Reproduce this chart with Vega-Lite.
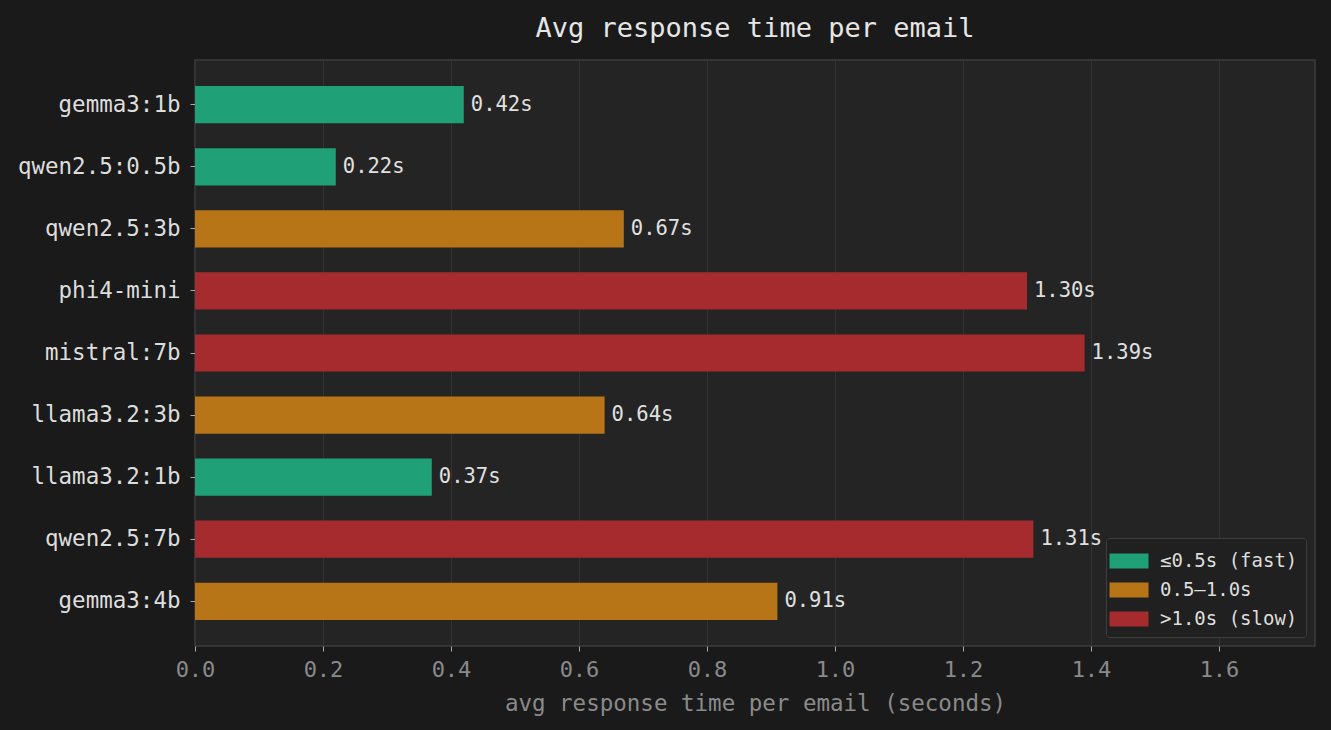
{
  "$schema": "https://vega.github.io/schema/vega-lite/v6.json",
  "width": 1120,
  "height": 586,
  "autosize": {"type": "none"},
  "padding": {"left": 195, "top": 60, "right": 16, "bottom": 84},
  "background": "#1a1a1a",
  "title": {
    "text": "Avg response time per email",
    "font": "DejaVu Sans Mono",
    "fontSize": 27,
    "fontWeight": "normal",
    "color": "#e6e6e6",
    "anchor": "middle",
    "offset": 17
  },
  "config": {
    "view": {"fill": "#242424", "stroke": "#3c3c3c", "strokeWidth": 1.5},
    "font": "DejaVu Sans Mono"
  },
  "data": {
    "values": [
      {"model": "gemma3:1b", "t": 0.42, "label": "0.42s", "cat": "≤0.5s (fast)"},
      {"model": "qwen2.5:0.5b", "t": 0.22, "label": "0.22s", "cat": "≤0.5s (fast)"},
      {"model": "qwen2.5:3b", "t": 0.67, "label": "0.67s", "cat": "0.5–1.0s"},
      {"model": "phi4-mini", "t": 1.30, "label": "1.30s", "cat": ">1.0s (slow)"},
      {"model": "mistral:7b", "t": 1.39, "label": "1.39s", "cat": ">1.0s (slow)"},
      {"model": "llama3.2:3b", "t": 0.64, "label": "0.64s", "cat": "0.5–1.0s"},
      {"model": "llama3.2:1b", "t": 0.37, "label": "0.37s", "cat": "≤0.5s (fast)"},
      {"model": "qwen2.5:7b", "t": 1.31, "label": "1.31s", "cat": ">1.0s (slow)"},
      {"model": "gemma3:4b", "t": 0.91, "label": "0.91s", "cat": "0.5–1.0s"}
    ]
  },
  "encoding": {
    "y": {
      "field": "model",
      "type": "nominal",
      "sort": null,
      "scale": {"paddingInner": 0.4, "paddingOuter": 0.42},
      "axis": {
        "title": null,
        "labelColor": "#dddddd",
        "labelFontSize": 22.5,
        "labelPadding": 10,
        "tickColor": "#aaaaaa",
        "tickSize": 5,
        "domain": false,
        "grid": false
      }
    },
    "x": {
      "field": "t",
      "type": "quantitative",
      "scale": {"domain": [0, 1.75], "nice": false},
      "axis": {
        "title": "avg response time per email (seconds)",
        "titleColor": "#8a8a8a",
        "titleFontSize": 22.5,
        "titleFontWeight": "normal",
        "titlePadding": 12,
        "values": [0, 0.2, 0.4, 0.6, 0.8, 1.0, 1.2, 1.4, 1.6],
        "format": ".1f",
        "labelFlush": false,
        "labelColor": "#8a8a8a",
        "labelFontSize": 22,
        "labelPadding": 8,
        "tickColor": "#aaaaaa",
        "tickSize": 5,
        "domain": false,
        "grid": true,
        "gridColor": "#333333",
        "gridWidth": 1
      }
    }
  },
  "layer": [
    {
      "mark": {"type": "bar"},
      "encoding": {
        "color": {
          "field": "cat",
          "type": "nominal",
          "scale": {
            "domain": ["≤0.5s (fast)", "0.5–1.0s", ">1.0s (slow)"],
            "range": ["#1fa077", "#b87518", "#a52b2f"]
          },
          "legend": {
            "title": null,
            "orient": "bottom-right",
            "offset": 9,
            "fillColor": "#202020",
            "strokeColor": "#3e3e3e",
            "cornerRadius": 3,
            "padding": 8,
            "labelColor": "#dddddd",
            "labelFontSize": 19,
            "labelOffset": 16,
            "rowPadding": 4,
            "symbolType": "M-1.3,-0.5H1.3V0.5H-1.3Z",
            "symbolSize": 900,
            "symbolStrokeWidth": 0,
            "symbolOpacity": 1
          }
        }
      }
    },
    {
      "mark": {"type": "text", "align": "left", "baseline": "middle", "dx": 7, "fontSize": 20.5, "color": "#e0e0e0"},
      "encoding": {"text": {"field": "label"}}
    }
  ]
}
